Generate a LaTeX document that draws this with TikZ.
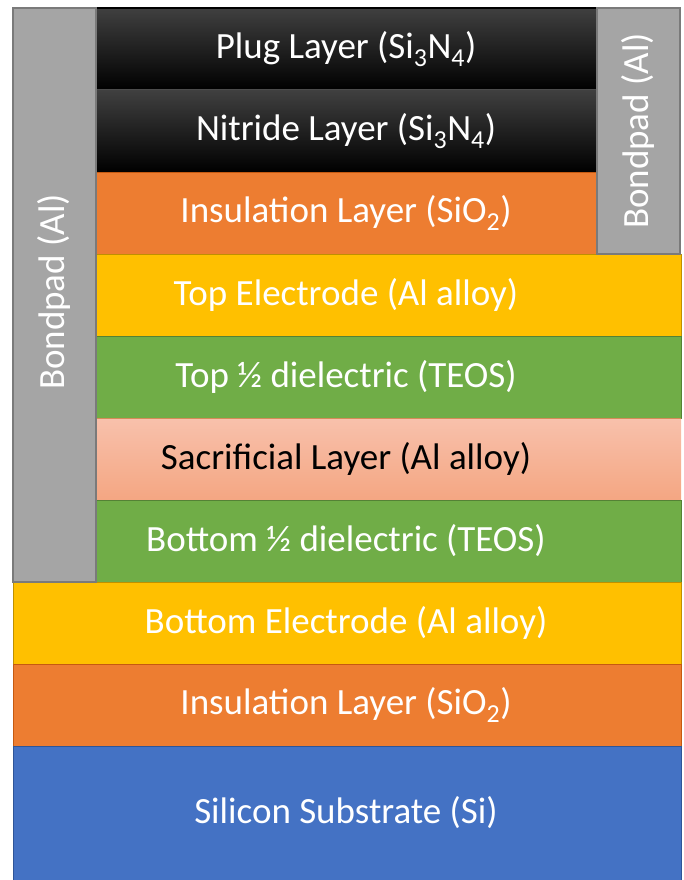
\documentclass[tikz,border=0pt]{standalone}
\usepackage{fontspec}
\setmainfont{Carlito}
\definecolor{insul}{HTML}{ED7D31}
\definecolor{insulline}{HTML}{C55A11}
\definecolor{electrode}{HTML}{FFC000}
\definecolor{electrodeline}{HTML}{BF9000}
\definecolor{teos}{HTML}{70AD47}
\definecolor{teosline}{HTML}{548235}
\definecolor{sacrtop}{HTML}{F8C1AC}
\definecolor{sacrbot}{HTML}{F4A682}
\definecolor{substrate}{HTML}{4472C4}
\definecolor{substrateline}{HTML}{2F5597}
\definecolor{pad}{HTML}{A5A5A5}
\definecolor{padline}{HTML}{7A7A7A}
\tikzset{
  label/.style={text=white,font=\fontsize{37}{42}\selectfont,inner sep=0pt},
}
\begin{document}
\begin{tikzpicture}[x=1pt,y=-1pt]
  \useasboundingbox (0,0) rectangle (683,880);
  % layers, top to bottom
  \shade[top color=black!75,middle color=black,bottom color=black] (96,8) rectangle (597,90);
  \shade[top color=black!75,middle color=black,bottom color=black] (96,90) rectangle (597,172);
  \draw[black,line width=1.5pt] (96,8) -- (597,8);
  \draw[black!70,line width=1pt] (96,90) -- (597,90);
  \draw[fill=insul,draw=insulline] (96,172) rectangle (597,254);
  \draw[fill=electrode,draw=electrodeline] (96,254) rectangle (681,336);
  \draw[fill=teos,draw=teosline] (96,336) rectangle (681,418);
  \shade[top color=sacrtop,bottom color=sacrbot] (96,418) rectangle (681,500);
  \draw[insulline!70] (96,418) -- (681,418);
  \draw[fill=teos,draw=teosline] (96,500) rectangle (681,582);
  \draw[fill=electrode,draw=electrodeline] (13,582) rectangle (681,664);
  \draw[fill=insul,draw=insulline] (13,664) rectangle (681,746);
  \draw[fill=substrate,draw=substrateline] (13,746) rectangle (681,882);
  % bondpads
  \draw[fill=pad,draw=padline,line width=1.5pt] (13,8) rectangle (96,582);
  \draw[fill=pad,draw=padline,line width=1.5pt] (597,8) rectangle (680,254);
  % texts
  \node[label] (plug) at (346,49) {Plug Layer (Si\textsubscript{3}N\textsubscript{4})};
  \node[label] (nitride) at (346,131) {Nitride Layer (Si\textsubscript{3}N\textsubscript{4})};
  \node[label] (insultop) at (346,213) {Insulation Layer (SiO\textsubscript{2})};
  \node[label] (topel) at (346,295) {Top Electrode (Al alloy)};
  \node[label] (topdi) at (346,377) {Top ½ dielectric (TEOS)};
  \node[label,text=black] (sacr) at (346,459) {Sacrificial Layer (Al alloy)};
  \node[label] (botdi) at (346,541) {Bottom ½ dielectric (TEOS)};
  \node[label] (botel) at (346,623) {Bottom Electrode (Al alloy)};
  \node[label] (insulbot) at (346,705) {Insulation Layer (SiO\textsubscript{2})};
  \node[label] (sub) at (346,813) {Silicon Substrate (Si)};
  \node[label,rotate=90] (padleft) at (54,292) {Bondpad (Al)};
  \node[label,rotate=90] (padright) at (638,131) {Bondpad (Al)};
\end{tikzpicture}
\end{document}
